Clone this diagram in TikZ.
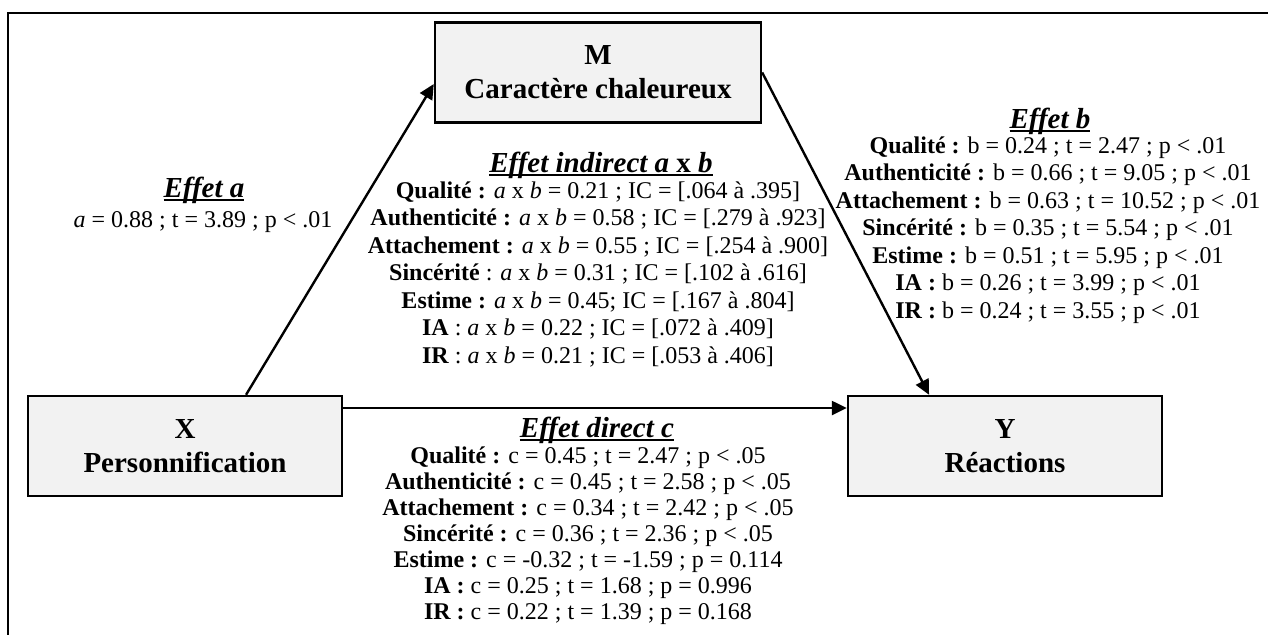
\documentclass[tikz,border=0pt]{standalone}
\usepackage{fontspec}
\setmainfont{Liberation Serif}
\usetikzlibrary{arrows.meta}
\definecolor{BoxClr}{HTML}{F2F2F2}
\newcommand{\headline}[1]{\setbox0\hbox{#1}\rlap{\rule[-1.8pt]{\wd0}{0.9pt}}\box0}

\begin{document}
\begin{tikzpicture}[x=0.5pt,y=-0.5pt,
  varbox/.style={draw,line width=1.2pt,fill=BoxClr,minimum width=157pt,minimum height=50pt,
    inner sep=0pt,align=center,font=\bfseries\fontsize{14.5}{17}\selectfont},
  effhead/.style={anchor=base,inner sep=0pt,font=\bfseries\itshape\fontsize{14.5}{16.5}\selectfont},
  effval/.style={anchor=base,inner sep=0pt,font=\fontsize{12}{13.75}\selectfont},
  effbody/.style={anchor=north,inner sep=0pt,align=center,font=\fontsize{12}{13.75}\selectfont},
  link/.style={line width=1.2pt,-{Triangle[length=7.5pt,width=7pt]}}]
\useasboundingbox (0,0) rectangle (1268,634);

% frame, only its top and left edges are on the page
\draw[line width=1.4pt] (8,700) -- (8,13) -- (1300,13);

% variables
\node[varbox,minimum width=163pt] (M) at (598,72.5) {M\\Caractère chaleureux};
\node[varbox] (X) at (185,446) {X\\Personnification};
\node[varbox] (Y) at (1005,446) {Y\\Réactions};

% paths
\draw[link] (X.40) -- (M.184);
\draw[link] (M.east) -- (Y.146);
\draw[link] ([yshift=19pt]X.east) -- ([yshift=19pt]Y.west);

% effet a
\node[effhead] (hA) at (204,197) {\headline{Effet a}};
\node[effval] (vA) at (203,227) {\textit{a} = 0.88 ; t = 3.89 ; p < .01};

% effet indirect
\node[effhead] (hAB) at (601,172) {\headline{Effet indirect a \textup{x} b}};
\node[effbody] (vAB) at (598,181) {%
  \textbf{Qualité :} \textit{a} x \textit{b} = 0.21 ; IC = [.064 à .395]\\
  \textbf{Authenticité :} \textit{a} x \textit{b} = 0.58 ; IC = [.279 à .923]\\
  \textbf{Attachement :} \textit{a} x \textit{b} = 0.55 ; IC = [.254 à .900]\\
  \textbf{Sincérité} : \textit{a} x \textit{b} = 0.31 ; IC = [.102 à .616]\\
  \textbf{Estime :} \textit{a} x \textit{b} = 0.45; IC = [.167 à .804]\\
  \textbf{IA} : \textit{a} x \textit{b} = 0.22 ; IC = [.072 à .409]\\
  \textbf{IR} : \textit{a} x \textit{b} = 0.21 ; IC = [.053 à .406]};

% effet b
\node[effhead] (hB) at (1050,128) {\headline{Effet b}};
\node[effbody] (vB) at (1048,136) {%
  \textbf{Qualité :} b = 0.24 ; t = 2.47 ; p < .01\\
  \textbf{Authenticité :} b = 0.66 ; t = 9.05 ; p < .01\\
  \textbf{Attachement :} b = 0.63 ; t = 10.52 ; p < .01\\
  \textbf{Sincérité :} b = 0.35 ; t = 5.54 ; p < .01\\
  \textbf{Estime :} b = 0.51 ; t = 5.95 ; p < .01\\
  \textbf{IA :} b = 0.26 ; t = 3.99 ; p < .01\\
  \textbf{IR :} b = 0.24 ; t = 3.55 ; p < .01};

% effet direct c
\node[effhead] (hC) at (597,437) {\headline{Effet direct c}};
\node[effbody,font=\fontsize{12}{13}\selectfont] (vC) at (588,446) {%
  \textbf{Qualité :} c = 0.45 ; t = 2.47 ; p < .05\\
  \textbf{Authenticité :} c = 0.45 ; t = 2.58 ; p < .05\\
  \textbf{Attachement :} c = 0.34 ; t = 2.42 ; p < .05\\
  \textbf{Sincérité :} c = 0.36 ; t = 2.36 ; p < .05\\
  \textbf{Estime :} c = -0.32 ; t = -1.59 ; p = 0.114\\
  \textbf{IA :} c = 0.25 ; t = 1.68 ; p = 0.996\\
  \textbf{IR :} c = 0.22 ; t = 1.39 ; p = 0.168};
\end{tikzpicture}
\end{document}
